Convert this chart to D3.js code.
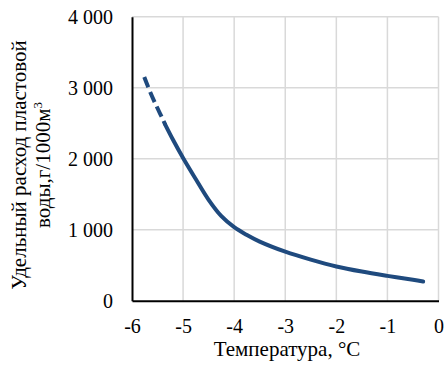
<!DOCTYPE html>
<html>
<head>
<meta charset="utf-8">
<script src="https://cdn.jsdelivr.net/npm/d3@7"></script>
<style>
  body { margin: 0; background: #fff; }
  svg text { font-family: "Liberation Serif", "Times New Roman", serif !important; fill: #000; }
</style>
</head>
<body>
<div id="chart"></div>
<script>
// data
const xTicks = [-6, -5, -4, -3, -2, -1, 0]
const yTicks = [0, 1000, 2000, 3000, 4000]

// extrapolated (dashed) part of the curve
const dashedTemp = [-5.76, -5.65, -5.52, -5.40, -5.35]
const dashedRate = [3150, 2950, 2740, 2560, 2480]

// measured (solid) part
const solidTemp = [-5.35, -5.2, -5.0, -4.75, -4.5, -4.25, -4.0, -3.75, -3.5, -3.0, -2.5, -2.0, -1.5, -1.0, -0.5, -0.3]
const solidRate = [2480, 2270, 2010, 1710, 1420, 1190, 1035, 925, 832, 690, 578, 482, 410, 350, 295, 270]

const width = 444, height = 374
const margin = {top: 17, right: 5, bottom: 74, left: 132}

const svg = d3.select('#chart')
  .append('svg')
  .attr('width', width)
  .attr('height', height)

const x = d3.scaleLinear()
  .domain([-6, 0])
  .range([margin.left, width - margin.right - 0.5])

const y = d3.scaleLinear()
  .domain([0, 4000])
  .range([height - margin.bottom + 0.7, margin.top - 0.3])

// grid
svg.append('g')
  .selectAll('line.h')
  .data(yTicks.slice(1))
  .enter().append('line')
  .attr('x1', x(-6)).attr('x2', x(0))
  .attr('y1', d => y(d)).attr('y2', d => y(d))
  .attr('stroke', '#d9d9d9').attr('stroke-width', 1.5)

svg.append('g')
  .selectAll('line.v')
  .data(xTicks.slice(1))
  .enter().append('line')
  .attr('x1', d => x(d)).attr('x2', d => x(d))
  .attr('y1', y(0)).attr('y2', y(4000))
  .attr('stroke', '#d9d9d9').attr('stroke-width', 1.5)

// axes
const fmt = d => d3.format(',')(d).replace(/,/g, ' ')

const yAxis = svg.append('g')
  .attr('transform', `translate(${x(-6)},0)`)
  .call(d3.axisLeft(y).tickValues(yTicks).tickSize(0).tickPadding(19).tickFormat(fmt))
  .attr('font-family', '"Liberation Serif", serif')
  .attr('font-size', 20)
yAxis.select('.domain').attr('stroke', '#000').attr('stroke-width', 2)

const xAxis = svg.append('g')
  .attr('transform', `translate(0,${y(0)})`)
  .call(d3.axisBottom(x).tickValues(xTicks).tickSize(0).tickPadding(18).tickFormat(d => String(d)))
  .attr('font-family', '"Liberation Serif", serif')
  .attr('font-size', 20)
xAxis.select('.domain').attr('stroke', '#000').attr('stroke-width', 2)

// curve
const line = d3.line()
  .x(d => x(d[0]))
  .y(d => y(d[1]))
  .curve(d3.curveCatmullRom.alpha(0.5))

svg.append('path')
  .datum(dashedTemp.map((t, i) => [t, dashedRate[i]]))
  .attr('d', line)
  .attr('fill', 'none')
  .attr('stroke', '#1f4a7e')
  .attr('stroke-width', 4)
  .attr('stroke-dasharray', '11,5')

svg.append('path')
  .datum(solidTemp.map((t, i) => [t, solidRate[i]]))
  .attr('d', line)
  .attr('fill', 'none')
  .attr('stroke', '#1f4a7e')
  .attr('stroke-width', 4)
  .attr('stroke-linecap', 'round')

// titles
svg.append('text')
  .attr('x', 287).attr('y', 355.5)
  .attr('text-anchor', 'middle')
  .style('font-size', '21px')
  .text('Температура, °C')

const yt = svg.append('text')
  .attr('transform', 'translate(0,165) rotate(-90)')
  .attr('text-anchor', 'middle')
  .style('font-size', '21px')
yt.append('tspan').attr('x', 0).attr('y', 26).text('Удельный расход пластовой')
const l2 = yt.append('tspan').attr('x', 0).attr('y', 50)
l2.append('tspan').text('воды,г/1000м')
l2.append('tspan').attr('dy', -8).style('font-size', '13px').text('3')
</script>
</body>
</html>
